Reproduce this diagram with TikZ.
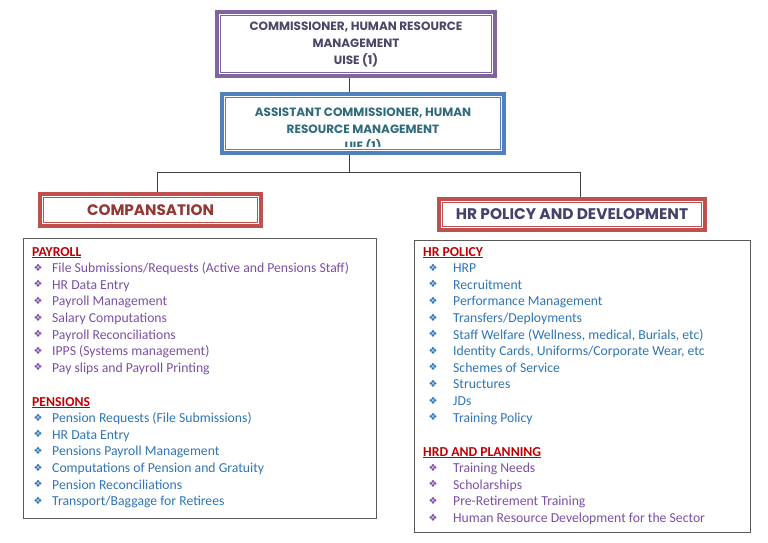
\documentclass[tikz,border=0pt]{standalone}
\usepackage{fontspec}
\setmainfont{Carlito}
\newfontfamily\boxfont{Poppins}
\newfontfamily\symfont{DejaVu Sans}
\usetikzlibrary{positioning}

\definecolor{cpurple}{HTML}{8064A2}
\definecolor{cblue}{HTML}{4F81BD}
\definecolor{cred}{HTML}{C0504D}
\definecolor{ctop}{HTML}{4A4868}
\definecolor{cteal}{HTML}{2F6B7C}
\definecolor{cbrown}{HTML}{953735}
\definecolor{cslate}{HTML}{44426A}
\definecolor{cplum}{HTML}{7B4FA6}
\definecolor{citem}{HTML}{2E75B6}
\definecolor{headred}{HTML}{C00000}
\definecolor{cgray}{HTML}{595959}

\begin{document}
\begin{tikzpicture}[x=1pt,y=-1pt,
	frame/.style={draw,line width=3.5pt,inner sep=0pt,fill=white},
	inner frame/.style={line width=1.1pt},
	boxtext/.style={align=center,inner sep=0pt,font=\boxfont\bfseries\fontsize{12}{17}\selectfont},
	listbox/.style={draw=cgray,line width=0.9pt,inner sep=0pt},
	item/.style={anchor=base west,inner sep=0pt,font=\fontsize{13.7}{15}\selectfont},
	head/.style={anchor=base west,inner sep=0pt,text=headred,font=\fontsize{13.7}{15}\selectfont\bfseries},
	bullet/.style={inner sep=0pt,font=\symfont\fontsize{10}{11}\selectfont},
	link/.style={draw=black!75,line width=0.8pt}]
	\useasboundingbox (0,0) rectangle (768,542);

	% top of the chart
	\node[frame,draw=cpurple,minimum width=278pt,minimum height=64pt,boxtext,text=ctop] (comm) at (356,44)
		{COMMISSIONER, HUMAN RESOURCE\\MANAGEMENT\\UISE (1)};
	\draw[cpurple,inner frame] ([shift={(5,5)}]comm.north west) rectangle ([shift={(-5,-5)}]comm.south east);

	\node[frame,draw=cblue,minimum width=282pt,minimum height=59pt] (asst) at (363,123.5) {};
	\begin{scope}
		\clip ([shift={(5,5)}]asst.north west) rectangle ([shift={(-5,-8)}]asst.south east);
		\node[boxtext,text=cteal] (asstlbl) at (363,130) {ASSISTANT COMMISSIONER, HUMAN\\RESOURCE MANAGEMENT\\UIE (1)};
	\end{scope}
	\draw[cblue,inner frame] ([shift={(5,5)}]asst.north west) rectangle ([shift={(-5,-5)}]asst.south east);

	% sections
	\node[frame,draw=cred,minimum width=221pt,minimum height=32pt,boxtext,font=\boxfont\bfseries\fontsize{15.2}{17}\selectfont,text=cbrown] (comp) at (150.5,210) {COMPANSATION};
	\draw[cred,inner frame] ([shift={(5,5)}]comp.north west) rectangle ([shift={(-5,-5)}]comp.south east);

	\node[frame,draw=cred,minimum width=266pt,minimum height=31pt,boxtext,font=\boxfont\bfseries\fontsize{15.4}{17}\selectfont,text=cslate] (hrpd) at (572,214.5) {HR POLICY AND DEVELOPMENT};
	\draw[cred,inner frame] ([shift={(5,5)}]hrpd.north west) rectangle ([shift={(-5,-5)}]hrpd.south east);

	\coordinate (trunk) at (349,172);
	\coordinate (jl) at (157,172);
	\coordinate (jr) at (580,172);
	\draw[link] (comm.south -| trunk) -- (asst.north -| trunk);
	\draw[link] (asst.south -| trunk) -- (trunk);
	\draw[link] (jl) -- (jr);
	\draw[link] (jl) -- (comp.north -| jl);
	\draw[link] (jr) -- (hrpd.north -| jr);

	% left list
	\node[listbox,minimum width=353pt,minimum height=280pt] (leftlist) at (199.5,378) {};
	\node[head] (payhd) at (32,256) {\underline{PAYROLL}};
	\foreach \txt [count=\i] in {{File Submissions/Requests (Active and Pensions Staff)},HR Data Entry,Payroll Management,Salary Computations,Payroll Reconciliations,IPPS (Systems management),Pay slips and Payroll Printing}
	{
		\node[bullet,text=cplum] (payb\i) at (38,{251+16.6*\i}) {❖};
		\node[item,text=cplum] (pay\i) at (52,{256+16.6*\i}) {\txt};
	}
	\node[head] (penhd) at (32,406) {\underline{PENSIONS}};
	\foreach \txt [count=\i] in {Pension Requests (File Submissions),HR Data Entry,Pensions Payroll Management,Computations of Pension and Gratuity,Pension Reconciliations,{Transport/Baggage for Retirees}}
	{
		\node[bullet,text=citem] (penb\i) at (38,{401+16.6*\i}) {❖};
		\node[item,text=citem] (pen\i) at (52,{406+16.6*\i}) {\txt};
	}

	% right list
	\node[listbox,minimum width=336pt,minimum height=292pt] (rightlist) at (582,386) {};
	\node[head] (polhd) at (423,256) {\underline{HR POLICY}};
	\foreach \txt [count=\i] in {HRP,Recruitment,Performance Management,{Transfers/Deployments},{Staff Welfare (Wellness, medical, Burials, etc)},{Identity Cards, Uniforms/Corporate Wear, etc},Schemes of Service,Structures,JDs,Training Policy}
	{
		\node[bullet,text=citem] (polb\i) at (433,{251+16.6*\i}) {❖};
		\node[item,text=citem] (pol\i) at (453,{256+16.6*\i}) {\txt};
	}
	\node[head] (hrdhd) at (423,456) {\underline{HRD AND PLANNING}};
	\foreach \txt [count=\i] in {Training Needs,Scholarships,Pre-Retirement Training,Human Resource Development for the Sector}
	{
		\node[bullet,text=cplum] (hrdb\i) at (433,{451+16.6*\i}) {❖};
		\node[item,text=cplum] (hrd\i) at (453,{456+16.6*\i}) {\txt};
	}
\end{tikzpicture}
\end{document}
